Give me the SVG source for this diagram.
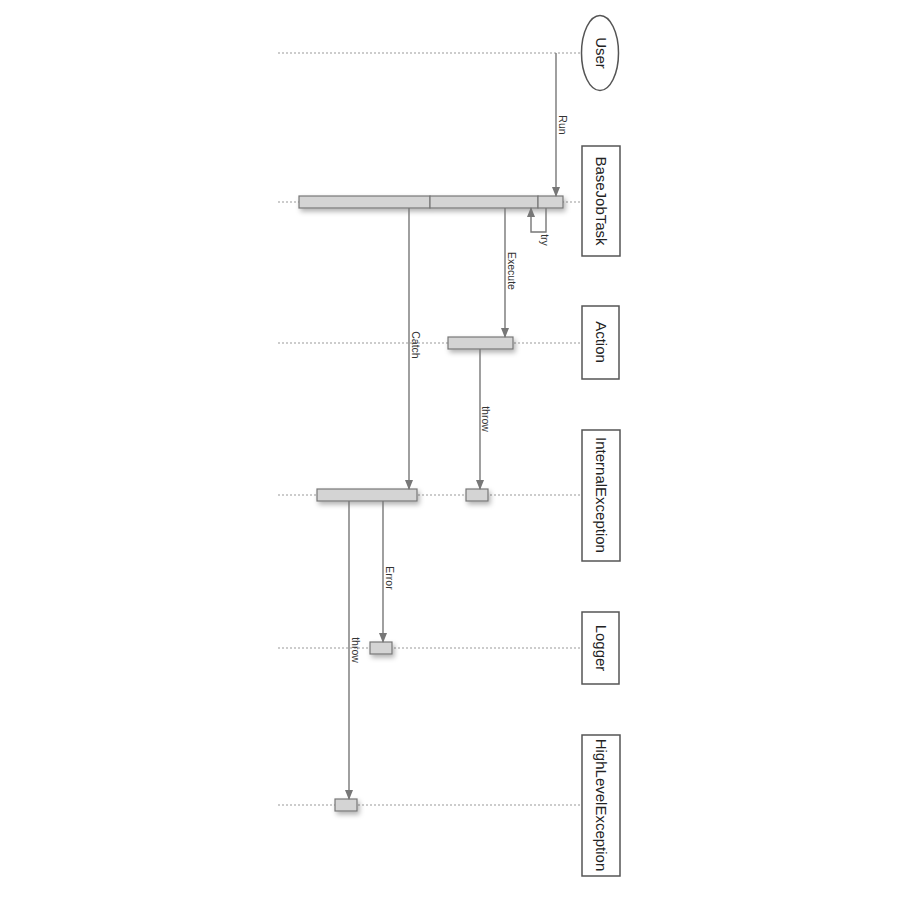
<svg xmlns="http://www.w3.org/2000/svg" width="900" height="900" viewBox="0 0 900 900">
<style>
.life{stroke:#999;stroke-width:1;stroke-dasharray:2,2;fill:none}
.node{fill:#fff;stroke:#555;stroke-width:1.5}
.bar{fill:#d4d4d4;stroke:#777;stroke-width:1.2}
.msg{stroke:#777;stroke-width:1.4;fill:none}
.nt{font-family:"Liberation Sans",sans-serif;font-size:15px;fill:#222;text-anchor:middle;dominant-baseline:central}
.lt{font-family:"Liberation Sans",sans-serif;font-size:10.5px;fill:#333;text-anchor:middle;dominant-baseline:central}
</style>
<defs>
<filter id="sh" x="-20%" y="-50%" width="140%" height="250%">
<feDropShadow dx="2" dy="3" stdDeviation="2.5" flood-color="#000" flood-opacity="0.3"/>
</filter>
<marker id="ah" markerWidth="10" markerHeight="8" refX="9" refY="4" orient="auto" markerUnits="userSpaceOnUse">
<path d="M0,0 L10,4 L0,8 Z" fill="#777"/>
</marker>
</defs>
<rect width="900" height="900" fill="#fff"/>
<g id="lifelines">
<line class="life" x1="278" y1="53" x2="582" y2="53"/>
<line class="life" x1="278" y1="202" x2="582" y2="202"/>
<line class="life" x1="278" y1="343" x2="582" y2="343"/>
<line class="life" x1="278" y1="495" x2="582" y2="495"/>
<line class="life" x1="278" y1="648" x2="582" y2="648"/>
<line class="life" x1="278" y1="805" x2="582" y2="805"/>
</g>
<g id="User"><ellipse class="node" cx="600" cy="53" rx="18.5" ry="37.5"/><text class="nt" transform="rotate(90 601 53)" x="601" y="53">User</text></g>
<g id="BaseJobTask"><rect class="node" x="582" y="146" width="38" height="110"/><text class="nt" transform="rotate(90 601 201)" x="601" y="201">BaseJobTask</text></g>
<g id="Action"><rect class="node" x="582" y="306" width="37" height="73"/><text class="nt" transform="rotate(90 601 342)" x="601" y="342">Action</text></g>
<g id="InternalException"><rect class="node" x="582" y="430" width="38" height="131"/><text class="nt" transform="rotate(90 601 495)" x="601" y="495">InternalException</text></g>
<g id="Logger"><rect class="node" x="582" y="612" width="37" height="72"/><text class="nt" transform="rotate(90 601 648)" x="601" y="648">Logger</text></g>
<g id="HighLevelException"><rect class="node" x="582" y="735" width="38" height="141"/><text class="nt" transform="rotate(90 601 805)" x="601" y="805">HighLevelException</text></g>
<g id="activations" filter="url(#sh)">
<rect class="bar" x="299" y="196" width="131" height="12"/>
<rect class="bar" x="430" y="196" width="108" height="12"/>
<rect class="bar" x="538" y="196" width="25" height="12"/>
<rect class="bar" x="448" y="337" width="65" height="12"/>
<rect class="bar" x="317" y="489" width="100" height="12"/>
<rect class="bar" x="466" y="489" width="22" height="12"/>
<rect class="bar" x="370" y="642" width="22" height="12"/>
<rect class="bar" x="335" y="799" width="22" height="12"/>
</g>
<g id="connectors">
<line class="msg" x1="556" y1="53" x2="556" y2="196" marker-end="url(#ah)"/>
<polyline class="msg" points="546,208 546,232 531,232 531,208" marker-end="url(#ah)"/>
<line class="msg" x1="505" y1="208" x2="505" y2="337" marker-end="url(#ah)"/>
<line class="msg" x1="409" y1="208" x2="409" y2="489" marker-end="url(#ah)"/>
<line class="msg" x1="480" y1="349" x2="480" y2="489" marker-end="url(#ah)"/>
<line class="msg" x1="383" y1="501" x2="383" y2="642" marker-end="url(#ah)"/>
<line class="msg" x1="349" y1="501" x2="349" y2="799" marker-end="url(#ah)"/>
<text class="lt" transform="rotate(90 563 125)" x="563" y="125">Run</text>
<text class="lt" transform="rotate(90 545 240)" x="545" y="240">try</text>
<text class="lt" transform="rotate(90 512 271)" x="512" y="271">Execute</text>
<text class="lt" transform="rotate(90 416 345)" x="416" y="345">Catch</text>
<text class="lt" transform="rotate(90 486 419)" x="486" y="419">throw</text>
<text class="lt" transform="rotate(90 390 578)" x="390" y="578">Error</text>
<text class="lt" transform="rotate(90 356 650)" x="356" y="650">throw</text>
</g>
</svg>
